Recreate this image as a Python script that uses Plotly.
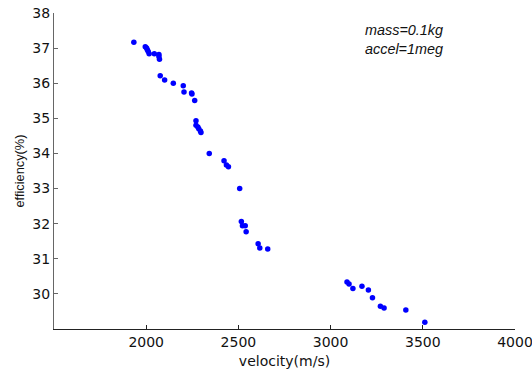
import plotly.graph_objects as go

# Measured velocity (m/s) and efficiency (%) samples
velocity = [1933, 1995, 2002, 2006, 2011, 2016, 2044, 2069, 2069, 2072,
            2076, 2100, 2147, 2201, 2205, 2246, 2248, 2263, 2270, 2270,
            2280, 2285, 2294, 2297, 2342, 2422, 2435, 2446, 2507, 2516,
            2522, 2537, 2542, 2607, 2616, 2659, 3089, 3100, 3121, 3170,
            3205, 3227, 3270, 3290, 3408, 3511]
efficiency = [37.17, 37.04, 37.00, 36.95, 36.90, 36.84, 36.84, 36.82, 36.76, 36.68,
              36.21, 36.09, 36.00, 35.93, 35.75, 35.72, 35.69, 35.51, 34.93, 34.80,
              34.75, 34.70, 34.64, 34.60, 34.00, 33.79, 33.67, 33.62, 33.00, 32.06,
              31.94, 31.94, 31.77, 31.43, 31.31, 31.28, 30.34, 30.28, 30.15, 30.22,
              30.11, 29.89, 29.65, 29.60, 29.54, 29.19]

x_ticks = [2000, 2500, 3000, 3500, 4000]
y_ticks = [30, 31, 32, 33, 34, 35, 36, 37, 38]
notes = ["mass=0.1kg", "accel=1meg"]

tick_font = dict(family="DejaVu Sans, sans-serif", size=14, color="#111111")
xtitle_font = dict(family="DejaVu Sans, sans-serif", size=14, color="#111111")
ytitle_font = dict(family="Liberation Sans, Arial, sans-serif", size=12.8, color="#111111")

fig = go.Figure(
    go.Scatter(
        x=velocity, y=efficiency, mode="markers",
        marker=dict(color="#0000ff", size=5.5, line=dict(width=0)),
        showlegend=False,
    )
)

fig.add_annotation(
    x=3175, y=37.24, xref="x", yref="y",
    text="<i>" + "<br>".join(notes) + "</i>",
    showarrow=False, xanchor="left", yanchor="middle", align="left",
    font=dict(family="Liberation Sans, Arial, sans-serif", size=14.4, color="#111111"),
)

fig.update_layout(
    width=532, height=371,
    margin=dict(l=54, r=17, t=13, b=42),
    paper_bgcolor="white", plot_bgcolor="white",
    font=tick_font,
)
fig.update_xaxes(
    range=[1500, 4000], tickvals=x_ticks, ticks="inside", ticklen=4,
    tickcolor="#222222", showline=True, linecolor="#222222", linewidth=1,
    showgrid=False, zeroline=False, mirror=False, tickfont=tick_font,
    ticklabeloverflow="allow",
    title=dict(text="velocity(m/s)", standoff=7, font=xtitle_font),
    automargin=False,
)
fig.update_yaxes(
    range=[29, 38], tickvals=y_ticks, ticks="inside", ticklen=4,
    tickcolor="#666666", showline=True, linecolor="#666666", linewidth=1,
    showgrid=False, zeroline=False, mirror=False, tickfont=tick_font,
    ticklabeloverflow="allow",
    title=dict(text="efficiency(%)", standoff=4, font=ytitle_font),
    automargin=False,
)

fig.write_html("out.html")
